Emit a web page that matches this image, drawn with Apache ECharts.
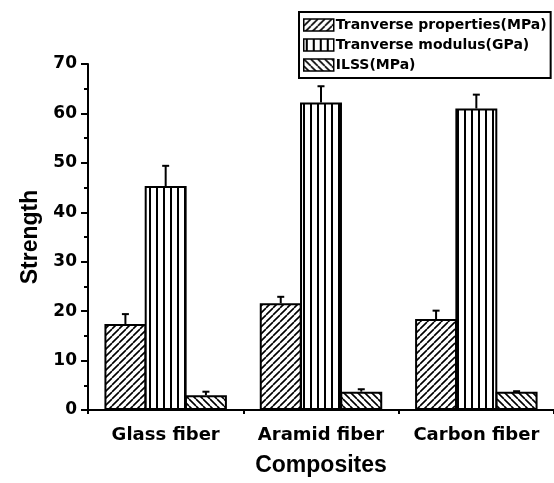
<!DOCTYPE html>
<html>
<head>
<meta charset="utf-8">
<script src="https://cdn.jsdelivr.net/npm/echarts@6/dist/echarts.min.js"></script>
<style>
html,body{margin:0;padding:0;background:#fff;}
#chart{width:554px;height:483px;}
</style>
</head>
<body>
<div id="chart"></div>
<script>
const categories = ['Glass fiber', 'Aramid fiber', 'Carbon fiber'];
const seriesNames = ['Tranverse properties(MPa)', 'Tranverse modulus(GPa)', 'ILSS(MPa)'];
const propVals = [17.4, 21.6, 18.4];
const propErr = [2.0, 1.3, 1.7];
const modVals = [45.3, 62.2, 61.0];
const modErr = [4.1, 3.3, 2.8];
const ilssVals = [3.0, 3.7, 3.7];
const ilssErr = [0.7, 0.5, 0.1];
const yMin = 0, yMax = 70, yInterval = 10;

const FONT = '"Liberation Sans", Arial, sans-serif';
const TICKFONT = '"DejaVu Sans", sans-serif';
const BAR_FRAC = 0.27;
const BAR_GAP = -0.04;

function makePattern(kind) {
  const s = 7;
  const c = document.createElement('canvas');
  c.width = s; c.height = s;
  const ctx = c.getContext('2d');
  ctx.fillStyle = '#fff';
  ctx.fillRect(0, 0, s, s);
  ctx.strokeStyle = '#000';
  ctx.fillStyle = '#000';
  if (kind === 'v') {
    ctx.fillRect(2, 0, 2, s);
  } else {
    ctx.lineWidth = 1.6;
    ctx.beginPath();
    for (const k of [-s, 0, s]) {
      if (kind === 'f') { ctx.moveTo(k, s); ctx.lineTo(k + s, 0); }
      else { ctx.moveTo(k, 0); ctx.lineTo(k + s, s); }
    }
    ctx.stroke();
  }
  return { image: c, repeat: 'repeat' };
}
const patterns = [makePattern('f'), makePattern('v'), makePattern('b')];
const valueSets = [propVals, modVals, ilssVals];
const errSets = [propErr, modErr, ilssErr];

const errData = [];
errSets.forEach((errs, s) => {
  errs.forEach((e, i) => errData.push([i, valueSets[s][i], e, s]));
});

const chart = echarts.init(document.getElementById('chart'), null, { renderer: 'canvas' });

const barSeries = seriesNames.map((name, s) => ({
  name: name,
  type: 'bar',
  data: valueSets[s],
  barWidth: (BAR_FRAC * 100) + '%',
  barGap: (BAR_GAP * 100) + '%',
  itemStyle: { color: patterns[s], borderColor: '#000', borderWidth: 2 },
  emphasis: { disabled: true },
  z: 2
}));

const errSeries = {
  type: 'custom',
  data: errData,
  z: 5,
  silent: true,
  renderItem: function (params, api) {
    const cat = api.value(0), v = api.value(1), e = api.value(2), s = api.value(3);
    const band = api.size([1, 0])[0];
    const off = (s - 1) * band * BAR_FRAC * (1 + BAR_GAP);
    const p0 = api.coord([cat, v]);
    const p1 = api.coord([cat, v + e]);
    const x = p0[0] + off;
    const hw = 3.5;
    return {
      type: 'group',
      children: [
        { type: 'line', shape: { x1: x, y1: p0[1], x2: x, y2: p1[1] }, style: { stroke: '#000', lineWidth: 2 } },
        { type: 'line', shape: { x1: x - hw, y1: p1[1], x2: x + hw, y2: p1[1] }, style: { stroke: '#000', lineWidth: 2 } }
      ]
    };
  }
};

const option = {
  backgroundColor: '#fff',
  animation: false,
  grid: { left: 88, right: -4, top: 64, bottom: 73 },
  legend: {
    data: seriesNames,
    orient: 'vertical',
    left: 299,
    top: 12,
    itemWidth: 30,
    itemHeight: 12,
    itemGap: 6,
    padding: [6, 4, 6, 4],
    borderColor: '#000',
    borderWidth: 2,
    backgroundColor: '#fff',
    icon: 'rect',
    itemStyle: { borderColor: '#000', borderWidth: 1.5 },
    textStyle: { fontFamily: TICKFONT, fontWeight: 'bold', fontSize: 14, color: '#000', padding: [0, 0, 0, -3] },
    selectedMode: false
  },
  xAxis: [
    {
      type: 'category',
      data: categories,
      boundaryGap: true,
      name: 'Composites',
      nameLocation: 'middle',
      nameGap: 44,
      nameTextStyle: { fontFamily: FONT, fontWeight: 'bold', fontSize: 23, color: '#000' },
      axisLine: { lineStyle: { color: '#000', width: 2 } },
      axisTick: { alignWithLabel: true, length: 7, lineStyle: { color: '#000', width: 2 } },
      axisLabel: { interval: 0, hideOverlap: false, fontFamily: TICKFONT, fontWeight: 'bold', fontSize: 18, color: '#000', margin: 16 },
      splitLine: { show: false }
    },
    {
      type: 'category',
      data: categories,
      position: 'bottom',
      boundaryGap: true,
      axisLine: { show: false },
      axisTick: { show: true, length: 4, lineStyle: { color: '#000', width: 2 } },
      axisLabel: { show: false },
      splitLine: { show: false }
    }
  ],
  yAxis: {
    type: 'value',
    min: yMin,
    max: yMax,
    interval: yInterval,
    name: 'Strength',
    nameLocation: 'middle',
    nameGap: 46,
    nameTextStyle: { fontFamily: FONT, fontWeight: 'bold', fontSize: 23, color: '#000' },
    axisLine: { show: true, lineStyle: { color: '#000', width: 2 } },
    axisTick: { show: true, length: 7, lineStyle: { color: '#000', width: 2 } },
    minorTick: { show: true, splitNumber: 2, length: 4, lineStyle: { color: '#000', width: 2 } },
    axisLabel: { fontFamily: TICKFONT, fontWeight: 'bold', fontSize: 17, color: '#000', margin: 11 },
    splitLine: { show: false },
    minorSplitLine: { show: false }
  },
  series: barSeries.concat([errSeries])
};
chart.setOption(option);
</script>
</body>
</html>
